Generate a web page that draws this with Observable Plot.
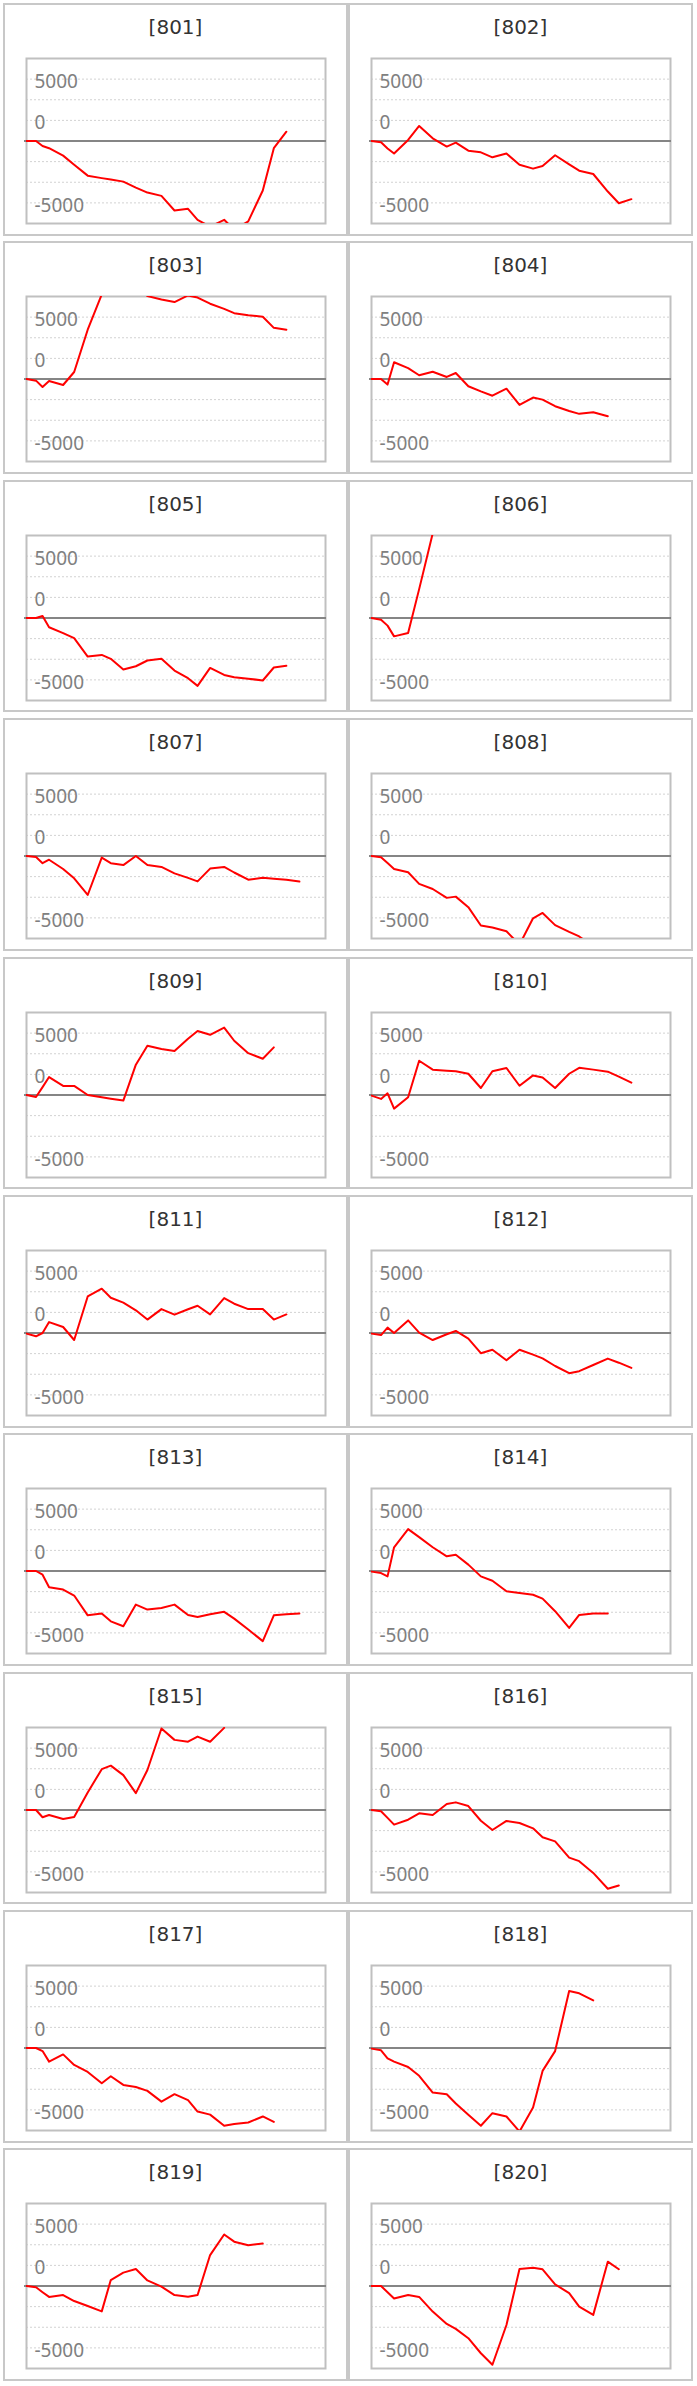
<!DOCTYPE html>
<html>
<head>
<meta charset="utf-8">
<script src="https://cdn.jsdelivr.net/npm/d3@7"></script>
<script src="https://cdn.jsdelivr.net/npm/@observablehq/plot@0.6"></script>
<style>
  body { margin: 0; background: #fff; }
  #grid { display: grid; grid-template-columns: 345px 345px; row-gap: 5.7px; padding: 3px 0 0 3px; }
  .panel { box-sizing: border-box; width: 345px; height: 232.7px; border: 2px solid #c8c8c8; overflow: hidden; background: #fff; }
  .title { height: 44px; line-height: 44px; text-align: center; font-family: "DejaVu Sans", sans-serif; font-size: 20px; color: #333; }
  .chart svg { display: block; }
</style>
</head>
<body>
<div id="grid"></div>
<script>
// shared time axis (day index)
const day = [0, 9.5, 16, 22.5, 36.5, 47.5, 61, 75, 84, 96.5, 109, 120.5, 134.5, 147.5, 161, 170.5, 183, 197, 207, 221, 235.5, 246.5, 259, 272];

// cumulative values per code
const v801 = [0, 0, -600, -875, -1775, -2875, -4200, -4500, -4675, -4925, -5650, -6250, -6650, -8425, -8225, -9550, -10400, -9550, -10750, -9750, -6000, -875, 1125];
const v802 = [0, -150, -900, -1525, 125, 1825, 325, -675, -200, -1175, -1375, -1975, -1525, -2875, -3350, -3025, -1725, -2825, -3600, -4000, -6125, -7550, -7050];
const v803 = [0, -200, -975, -250, -725, 850, 5975, 10250, 11500, 12000, 11250, 10050, 9625, 9325, 10125, 9875, 9125, 8500, 7975, 7725, 7550, 6200, 5975];
const v804 = [0, 0, -675, 2025, 1325, 450, 875, 250, 725, -875, -1500, -2025, -1175, -3150, -2250, -2500, -3300, -3875, -4225, -4025, -4525];
const v805 = [0, 0, 250, -1125, -1825, -2450, -4675, -4475, -4950, -6250, -5850, -5150, -4950, -6375, -7300, -8225, -6050, -6900, -7175, -7350, -7575, -6000, -5800];
const v806 = [0, -200, -925, -2225, -1825, 3500, 10250, 14000];
const v807 = [0, -125, -875, -450, -1575, -2700, -4725, -200, -875, -1100, 0, -1100, -1325, -2100, -2650, -3075, -1525, -1325, -2000, -2875, -2650, -2750, -2875, -3100];
const v808 = [0, -150, -850, -1575, -1975, -3375, -4000, -5075, -4925, -6200, -8425, -8675, -9125, -10750, -7550, -6900, -8375, -9200, -9750, -11000, -11500];
const v809 = [0, -250, 950, 2175, 1100, 1100, 0, -275, -450, -675, 3675, 5975, 5575, 5325, 6825, 7750, 7300, 8175, 6575, 5075, 4400, 5775];
const v810 = [-75, -475, 200, -1650, -275, 4150, 3075, 2950, 2875, 2575, 850, 2875, 3275, 1125, 2375, 2125, 850, 2575, 3300, 3075, 2825, 2225, 1500];
const v811 = [-75, -400, 0, 1325, 725, -850, 4425, 5375, 4275, 3675, 2750, 1625, 2900, 2225, 2875, 3300, 2250, 4225, 3550, 2900, 2900, 1625, 2250];
const v812 = [-75, -250, 650, 0, 1525, 50, -850, -150, 250, -675, -2450, -2025, -3300, -2025, -2625, -3075, -4000, -4875, -4625, -3875, -3100, -3600, -4225];
const v813 = [0, 0, -450, -1975, -2250, -2975, -5375, -5150, -6100, -6700, -4075, -4675, -4475, -4075, -5325, -5575, -5250, -4950, -5775, -7100, -8500, -5375, -5250, -5150];
const v814 = [-75, -250, -650, 2875, 5075, 4100, 2875, 1775, 1975, 775, -650, -1175, -2450, -2675, -2875, -3350, -4875, -6900, -5325, -5150, -5150];
const v815 = [0, 0, -875, -600, -1100, -850, 2125, 4950, 5375, 4225, 2050, 4850, 9875, 8500, 8275, 8900, 8275, 9950];
const v816 = [0, -150, -950, -1775, -1175, -400, -600, 725, 925, 475, -1300, -2425, -1325, -1575, -2225, -3300, -3800, -5775, -6200, -7625, -9550, -9150];
const v817 = [0, 0, -375, -1650, -775, -2050, -2900, -4275, -3425, -4475, -4725, -5200, -6500, -5600, -6325, -7700, -8075, -9425, -9225, -9025, -8300, -8950];
const v818 = [-75, -275, -1250, -1650, -2300, -3375, -5400, -5600, -6725, -8100, -9425, -7900, -8300, -10125, -7225, -2775, -375, 6900, 6625, 5775];
const v819 = [0, -150, -750, -1325, -1100, -1825, -2425, -3075, 725, 1625, 2050, 675, -75, -1100, -1300, -1100, 3750, 6250, 5375, 4950, 5150];
const v820 = [0, 0, -750, -1525, -1100, -1325, -3100, -4600, -5200, -6325, -8150, -9550, -4725, 2050, 2225, 2025, 200, -875, -2500, -3500, 2950, 2025];

const codes = ["801","802","803","804","805","806","807","808","809","810","811","812","813","814","815","816","817","818","819","820"];
const seriesList = [v801,v802,v803,v804,v805,v806,v807,v808,v809,v810,v811,v812,v813,v814,v815,v816,v817,v818,v819,v820];

// y axis labels as shown in the chart
const yTickAt = [7500, 2500, -7500];
const yTickLabels = ["5000", "0", "-5000"];
const gridValues = [-7500, -5000, -2500, 2500, 5000, 7500];

const yTicks = yTickAt.map((v, i) => ({v, label: yTickLabels[i]}));
const grid = document.getElementById("grid");

codes.forEach((code, k) => {
  const panel = document.createElement("div");
  panel.className = "panel";
  const title = document.createElement("div");
  title.className = "title";
  title.textContent = "[" + code + "]";
  panel.appendChild(title);
  const holder = document.createElement("div");
  holder.className = "chart";
  const data = seriesList[k].map((v, i) => ({day: day[i], v}));
  const chart = Plot.plot({
    width: 341,
    height: 185,
    marginLeft: 21,
    marginRight: 21,
    marginTop: 9,
    marginBottom: 11,
    x: {domain: [0, 298], axis: null},
    y: {domain: [-10000, 10000], axis: null},
    marks: [
      Plot.ruleY(gridValues, {stroke: "#d2d2d2", strokeWidth: 1, strokeDasharray: "2,2"}),
      Plot.frame({stroke: "#c0c0c0", strokeWidth: 2}),
      Plot.ruleY([0], {stroke: "#858585", strokeWidth: 2, insetLeft: -2, insetRight: -1}),
      Plot.text(yTicks, {y: "v", text: "label", frameAnchor: "left", textAnchor: "start", dx: 8, dy: 3, fill: "#808080", fontSize: 19, fontFamily: "Noto Sans"}),
      Plot.line(data, {x: "day", y: "v", stroke: "#ff0000", strokeWidth: 2, clip: true})
    ]
  });
  holder.appendChild(chart);
  panel.appendChild(holder);
  grid.appendChild(panel);
});
</script>
</body>
</html>
